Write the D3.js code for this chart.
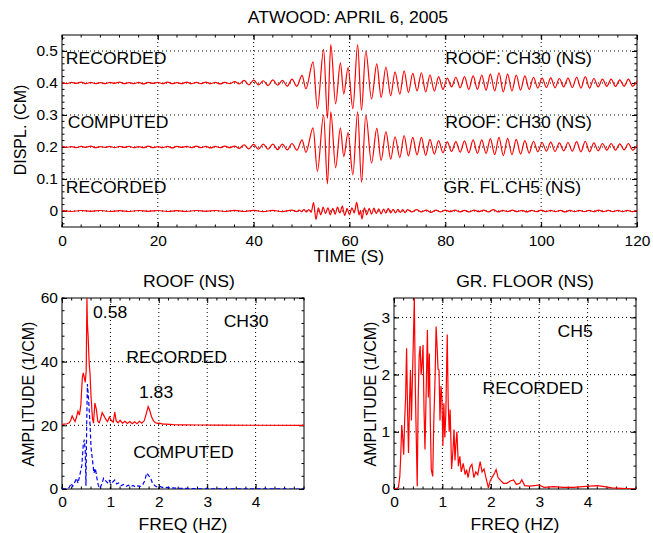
<!DOCTYPE html>
<html lang="en">
<head>
<meta charset="UTF-8">
<title>Atwood: April 6, 2005</title>
<script src="https://d3js.org/d3.v7.min.js"></script>
<style>
  body { margin: 0; background: #fff; }
  svg { display: block; background: #fff; }
  text { font-family: "Liberation Sans", Arial, Helvetica, sans-serif; fill: #000; }
  .grid line { stroke: #000; stroke-width: 1; stroke-dasharray: 1,3; }
  .frame { fill: none; stroke: #000; stroke-width: 1; }
  .tick line, .minor { stroke: #000; stroke-width: 1; }
</style>
</head>
<body>
<svg width="653" height="533"></svg>
<script>
// ---- tick labels ----
const timeTicks = [0, 20, 40, 60, 80, 100, 120];
const displTicks = [0, 0.1, 0.2, 0.3, 0.4, 0.5];
const freqTicks = [0, 1, 2, 3, 4];
const roofAmpTicks = [0, 20, 40, 60];
const floorAmpTicks = [0, 1, 2, 3];

// vertical offsets used to stack the traces
const offsets = { roofRec: 0.4, roofComp: 0.2, floor: 0, roofSpec: 20 };

// ---- displacement time histories (cm), read at the wave peaks/troughs ----
const roofT = [
  0, 1, 2, 3, 4, 5, 6, 7, 8, 9, 10, 11, 12, 13, 14, 15, 16, 17, 18, 19,
  20, 21, 22, 23, 24, 25, 26, 27, 28, 29, 30, 31, 32, 33, 34, 35, 36, 37, 38, 39,
  40, 41, 42, 43, 44, 45, 46, 47, 48, 49,
  50.1, 50.9, 52.4, 53.3, 54.6, 55.4, 56.1, 57.1, 58.1, 58.8, 59.7, 60.7, 61.7, 62.5, 63.4, 64.6,
  65.7, 66.6, 67.6, 68.6, 69.5, 70.5, 71.4, 72.3, 73.2, 74.1, 75.0, 75.9, 76.8, 77.7, 78.6, 79.5,
  80.4, 81.3, 82.2, 83.1, 84.0, 84.9, 85.8, 86.7, 87.6, 88.5, 89.4, 90.3, 91.2, 92.1, 93.0,
  93.9, 94.8, 95.7, 96.6, 97.5, 98.4, 99.3, 100.2, 101.1, 102.0, 102.9, 103.8, 104.7, 105.6, 106.5,
  107.4, 108.3, 109.2, 110.1, 111.0, 111.9, 112.8, 113.7, 114.6, 115.5, 116.4, 117.3, 118.2, 119.1, 120.0
];
const roofRec = [
  0.001, -0.002, 0.002, -0.001, 0.003, -0.002, 0.002, -0.002, 0.001, -0.002,
  0.002, -0.001, 0.003, -0.002, 0.001, -0.002, 0.002, -0.003, 0.002, -0.001,
  0.002, -0.002, 0.003, -0.002, 0.001, -0.002, 0.003, -0.002, 0.002, -0.002,
  0.003, -0.002, 0.002, -0.003, 0.002, -0.002, 0.004, -0.003, 0.008, -0.006,
  0.009, -0.006, 0.007, -0.008, 0.010, -0.007, 0.008, -0.010, 0.012, -0.010,
  0.024, -0.018, 0.066, -0.080, 0.105, -0.110, 0.120, -0.065, 0.063, -0.034, 0.048, -0.080, 0.120, -0.085, 0.100, -0.050,
  0.060, -0.045, 0.050, -0.040, 0.035, -0.035, 0.038, -0.030, 0.030, -0.025, 0.032, -0.028, 0.025, -0.025, 0.020, -0.020,
  0.015, -0.012, 0.018, -0.015, 0.020, -0.020, 0.022, -0.020, 0.025, -0.022, 0.028, -0.025, 0.032, -0.028, 0.028,
  -0.025, 0.025, -0.022, 0.022, -0.020, 0.018, -0.016, 0.015, -0.014, 0.016, -0.015, 0.014, -0.012, 0.015, -0.014,
  0.018, -0.016, 0.020, -0.016, 0.014, -0.012, 0.012, -0.010, 0.012, -0.011, 0.010, -0.010, 0.012, -0.010, 0.006
];
const roofComp = [
  0.002, -0.001, 0.001, -0.002, 0.002, -0.001, 0.003, -0.002, 0.001, -0.001,
  0.002, -0.002, 0.002, -0.001, 0.002, -0.002, 0.001, -0.002, 0.003, -0.002,
  0.001, -0.002, 0.002, -0.003, 0.002, -0.001, 0.002, -0.002, 0.003, -0.002,
  0.002, -0.003, 0.002, -0.002, 0.003, -0.002, 0.003, -0.004, 0.007, -0.006,
  0.008, -0.007, 0.009, -0.007, 0.009, -0.008, 0.009, -0.009, 0.011, -0.010,
  0.022, -0.017, 0.060, -0.076, 0.100, -0.115, 0.110, -0.065, 0.060, -0.030, 0.045, -0.087, 0.110, -0.110, 0.100, -0.050,
  0.058, -0.042, 0.048, -0.038, 0.032, -0.033, 0.036, -0.028, 0.030, -0.025, 0.030, -0.026, 0.024, -0.022, 0.020, -0.018,
  0.016, -0.014, 0.017, -0.016, 0.019, -0.018, 0.022, -0.020, 0.022, -0.020, 0.026, -0.024, 0.030, -0.027, 0.027,
  -0.024, 0.024, -0.022, 0.020, -0.019, 0.018, -0.015, 0.014, -0.013, 0.015, -0.014, 0.013, -0.012, 0.014, -0.013,
  0.017, -0.015, 0.018, -0.015, 0.013, -0.012, 0.011, -0.010, 0.011, -0.010, 0.010, -0.009, 0.011, -0.010, 0.005
];
// ground floor CH5: [time (s), displacement (cm)]
const floorRec = [
  [0, 0.001], [2, -0.0015], [4, 0.0015], [6, -0.001], [8, 0.0015], [10, -0.0015], [12, 0.001], [14, -0.0015],
  [16, 0.0015], [18, -0.001], [20, 0.0015], [22, -0.0015], [24, 0.001], [26, -0.0015], [28, 0.0015], [30, -0.001],
  [32, 0.0015], [34, -0.0015], [36, 0.002], [38, -0.0015], [40, 0.002], [42, -0.002], [44, 0.002], [46, -0.002],
  [48, 0.0025], [49, -0.002], [49.5, 0.003], [50, -0.002], [50.5, 0.004], [51, -0.003], [51.5, 0.004], [52, -0.004],
  [52.5, 0.026], [53, -0.026], [53.5, 0.010], [54, -0.012], [54.5, 0.012], [55, -0.008], [55.5, 0.010], [56, -0.012],
  [56.5, 0.008], [57, -0.010], [57.5, 0.012], [58, -0.006], [58.5, 0.015], [59, -0.014], [59.5, 0.008], [60, -0.012],
  [60.5, 0.010], [61, -0.006], [61.5, 0.027], [62, -0.012], [62.3, 0.002], [62.6, -0.025], [63.1, 0.010], [63.6, -0.012],
  [64.1, 0.008], [64.6, -0.010], [65.1, 0.009], [65.6, -0.008], [66.1, 0.007], [66.6, -0.009], [67.1, 0.006], [67.6, -0.007],
  [68.1, 0.008], [68.6, -0.006], [69.1, 0.005], [69.6, -0.006], [70.1, 0.005], [70.6, -0.004], [71.1, 0.004], [71.6, -0.005],
  [72.1, 0.004], [73, -0.003], [74, 0.004], [75, -0.003], [76, 0.003], [77, -0.004], [78, 0.003], [79, -0.003],
  [80, 0.003], [81, -0.002], [82, 0.003], [83, -0.003], [84, 0.002], [85, -0.003], [86, 0.003], [87, -0.002],
  [88, 0.003], [89, -0.003], [90, 0.004], [91, -0.003], [92, 0.002], [93, -0.002], [94, 0.003], [95, -0.002],
  [96, 0.002], [97, -0.003], [98, 0.002], [99, -0.002], [100, 0.003], [101, -0.002], [102, 0.002], [103, -0.002],
  [104, 0.002], [105, -0.003], [106, 0.002], [107, -0.002], [108, 0.002], [109, -0.002], [110, 0.002], [111, -0.002],
  [112, 0.003], [113, -0.002], [114, 0.002], [115, -0.002], [116, 0.002], [117, -0.002], [118, 0.002], [119, -0.002],
  [120, 0.001]
];

// ---- Fourier amplitude spectra: [freq (Hz), amplitude (1/cm)] ----
const roofSpecRec = [
  [0, 0.3], [0.05, 0.4], [0.1, 0.5], [0.15, 0.8], [0.18, 1.6], [0.21, 3.0], [0.24, 2.0], [0.27, 1.2],
  [0.3, 2.6], [0.33, 4.4], [0.36, 3.2], [0.39, 6.5], [0.42, 15], [0.44, 16.5], [0.46, 15], [0.48, 13.5],
  [0.5, 17], [0.515, 40], [0.525, 32], [0.54, 28], [0.56, 20], [0.58, 16], [0.6, 9], [0.63, 2],
  [0.65, 0.7], [0.68, 7], [0.71, 5], [0.74, 1.2], [0.77, 0.8], [0.8, 2.2], [0.83, 4], [0.86, 3.2],
  [0.9, 2.0], [0.94, 1.2], [0.98, 2.6], [1.02, 1.5], [1.06, 1.0], [1.09, 4.2], [1.12, 1.4], [1.16, 0.8],
  [1.2, 1.6], [1.25, 0.7], [1.3, 1.3], [1.35, 0.6], [1.4, 1.2], [1.45, 0.5], [1.5, 1.1], [1.55, 0.5],
  [1.6, 1.3], [1.65, 0.7], [1.7, 1.5], [1.74, 3.6], [1.78, 5.9], [1.81, 4.8], [1.85, 2.7], [1.89, 1.4],
  [1.93, 0.8], [1.97, 0.6], [2.02, 0.7], [2.08, 0.4], [2.15, 0.4], [2.3, 0.25], [2.5, 0.15], [2.8, 0.1],
  [3.2, 0.05], [5, 0]
];
const roofSpecComp = [
  [0, 0], [0.1, 0.1], [0.15, 0.5], [0.19, 1.8], [0.22, 0.8], [0.26, 2.0], [0.3, 3.4], [0.33, 1.8],
  [0.37, 4.5], [0.41, 7.5], [0.44, 14], [0.46, 15.5], [0.48, 12], [0.495, 1], [0.51, 20], [0.525, 33],
  [0.55, 28], [0.58, 20], [0.6, 13], [0.63, 9], [0.66, 5], [0.69, 6.5], [0.72, 3.5], [0.75, 1.2],
  [0.78, 0.2], [0.82, 1.5], [0.86, 3.4], [0.9, 2.6], [0.94, 2.0], [0.97, 2.9], [1.01, 1.6], [1.05, 2.2],
  [1.09, 2.8], [1.13, 1.6], [1.17, 1.9], [1.22, 1.0], [1.27, 1.4], [1.32, 0.8], [1.37, 1.2], [1.42, 0.7],
  [1.47, 1.1], [1.52, 0.6], [1.57, 1.0], [1.62, 0.8], [1.67, 1.4], [1.71, 2.6], [1.75, 5.0], [1.79, 4.2],
  [1.83, 3.5], [1.87, 1.8], [1.92, 1.0], [1.97, 0.6], [2.02, 0.8], [2.1, 0.4], [2.2, 0.5], [2.35, 0.25],
  [2.5, 0.2], [2.7, 0.1], [3, 0.05], [5, 0]
];
const floorSpec = [
  [0, 0], [0.05, 0.01], [0.09, 0.02], [0.12, 0.22], [0.14, 0.6], [0.16, 1.12], [0.18, 0.9], [0.2, 0.6],
  [0.22, 1.2], [0.24, 1.6], [0.26, 2.46], [0.28, 1.38], [0.3, 0.63], [0.32, 1.5], [0.34, 2.08], [0.36, 1.2],
  [0.38, 1.9], [0.4, 2.6], [0.42, 3.34], [0.44, 1.8], [0.46, 0.9], [0.48, 0.05], [0.5, 1.6], [0.52, 2.32],
  [0.54, 2.5], [0.56, 2.0], [0.58, 2.2], [0.6, 2.52], [0.62, 1.4], [0.64, 0.69], [0.66, 1.5], [0.69, 2.78],
  [0.71, 1.6], [0.73, 2.37], [0.75, 1.2], [0.77, 0.34], [0.8, 0.22], [0.82, 1.1], [0.85, 2.0], [0.87, 2.84],
  [0.89, 2.5], [0.91, 2.1], [0.93, 2.08], [0.95, 1.2], [0.97, 1.8], [0.99, 1.6], [1.01, 0.75], [1.03, 1.5],
  [1.05, 0.9], [1.07, 1.3], [1.1, 2.7], [1.12, 1.5], [1.14, 1.0], [1.16, 1.39], [1.19, 0.35], [1.22, 0.7],
  [1.24, 1.04], [1.26, 0.5], [1.28, 0.8], [1.3, 1.0], [1.33, 0.4], [1.36, 0.57], [1.39, 0.3], [1.43, 0.45],
  [1.47, 0.25], [1.5, 0.34], [1.53, 0.2], [1.57, 0.38], [1.61, 0.43], [1.65, 0.2], [1.69, 0.3], [1.73, 0.25],
  [1.78, 0.48], [1.82, 0.3], [1.86, 0.35], [1.9, 0.2], [1.95, 0.02], [1.99, 0.15], [2.04, 0.22], [2.08, 0.28],
  [2.11, 0.34], [2.15, 0.2], [2.2, 0.15], [2.26, 0.1], [2.33, 0.1], [2.4, 0.14], [2.47, 0.16], [2.53, 0.08],
  [2.6, 0.1], [2.64, 0.16], [2.7, 0.06], [2.8, 0.05], [2.9, 0.06], [3.0, 0.07], [3.1, 0.03], [3.3, 0.04],
  [3.5, 0.03], [3.7, 0.03], [3.9, 0.04], [4.05, 0.05], [4.2, 0.06], [4.35, 0.04], [4.5, 0.02], [4.7, 0.01],
  [5, 0]
];

const SX = 1.1;   // the picture's lettering is a little wider than the font
const svg = d3.select("svg");

const xT = d3.scaleLinear().domain([0, 120]).range([62, 637]);
const yT = d3.scaleLinear().domain([-0.05, 0.55]).range([227, 35]);
const xL = d3.scaleLinear().domain([0, 5]).range([62, 304]);
const yL = d3.scaleLinear().domain([0, 60]).range([489, 298]);
const xR = d3.scaleLinear().domain([0, 5]).range([394, 636]);
const yR = d3.scaleLinear().domain([0, 3.34]).range([489, 298]);

function say(g, x, y, s, size, anchor) {
  return g.append("text")
    .attr("transform", `translate(${x},${y}) scale(${SX},1)`)
    .attr("text-anchor", anchor || "start")
    .style("font-size", (size || 16) + "px")
    .text(s);
}

function panel(x, y, o) {
  const [l, r] = x.range(), [b, t] = y.range();
  const g = svg.append("g");
  const id = "clip" + Math.round(l) + "_" + Math.round(t);
  svg.append("clipPath").attr("id", id)
    .append("rect").attr("x", l).attr("y", t).attr("width", r - l).attr("height", b - t);

  // dotted grid
  const grid = g.append("g").attr("class", "grid");
  grid.selectAll(".gx").data(o.xTicks.filter(d => x(d) > l + 1 && x(d) < r - 1)).join("line")
    .attr("x1", d => x(d)).attr("x2", d => x(d)).attr("y1", b).attr("y2", t);
  grid.selectAll(".gy").data(o.yTicks.filter(d => y(d) < b - 1 && y(d) > t + 1)).join("line")
    .attr("x1", l).attr("x2", r).attr("y1", d => y(d)).attr("y2", d => y(d));

  // minor ticks on all four sides
  const mx = d3.range(x.domain()[0], x.domain()[1] + 1e-9, o.xMinor);
  const my = d3.range(o.yMinorStart, y.domain()[1] + 1e-9, o.yMinor);
  mx.forEach(v => {
    g.append("line").attr("class", "minor").attr("x1", x(v)).attr("x2", x(v)).attr("y1", b).attr("y2", b - 2.5);
    g.append("line").attr("class", "minor").attr("x1", x(v)).attr("x2", x(v)).attr("y1", t).attr("y2", t + 2.5);
  });
  my.forEach(v => {
    g.append("line").attr("class", "minor").attr("x1", l).attr("x2", l + 2.5).attr("y1", y(v)).attr("y2", y(v));
    g.append("line").attr("class", "minor").attr("x1", r).attr("x2", r - 2.5).attr("y1", y(v)).attr("y2", y(v));
  });

  // major ticks with labels (bottom, left) and bare ticks (top, right)
  const ax = g.append("g").attr("transform", `translate(0,${b})`)
    .call(d3.axisBottom(x).tickValues(o.xTicks).tickSize(-5).tickSizeOuter(0).tickPadding(o.xPad).tickFormat(d3.format("")));
  const ay = g.append("g").attr("transform", `translate(${l},0)`)
    .call(d3.axisLeft(y).tickValues(o.yTicks).tickSize(-5).tickSizeOuter(0).tickPadding(4).tickFormat(d3.format("")));
  g.append("g").attr("transform", `translate(0,${t})`)
    .call(d3.axisTop(x).tickValues(o.xTicks).tickSize(-5).tickSizeOuter(0).tickFormat(""));
  g.append("g").attr("transform", `translate(${r},0)`)
    .call(d3.axisRight(y).tickValues(o.yTicks).tickSize(-5).tickSizeOuter(0).tickFormat(""));
  g.selectAll(".domain").remove();
  [ax, ay].forEach(a => a.selectAll("text").attr("fill", "#000")
    .style("font-family", '"Liberation Sans", Arial, sans-serif').style("font-size", "15.5px"));

  g.append("rect").attr("class", "frame").attr("x", l).attr("y", t).attr("width", r - l).attr("height", b - t);
  return { g, clip: `url(#${id})` };
}

// ---------- top: displacement histories ----------
const topP = panel(xT, yT, { xTicks: timeTicks, yTicks: displTicks, xMinor: 4, yMinor: 0.02, yMinorStart: -0.04, xPad: 8 });
const lineT = d3.line().x(d => xT(d[0])).y(d => yT(d[1])).curve(d3.curveMonotoneX);
const traces = [
  roofT.map((t, i) => [t, roofRec[i] + offsets.roofRec]),
  roofT.map((t, i) => [t, roofComp[i] + offsets.roofComp]),
  floorRec.map(d => [d[0], d[1] + offsets.floor])
];
topP.g.append("g").attr("clip-path", topP.clip).selectAll("path").data(traces).join("path")
  .attr("d", lineT).attr("fill", "none").attr("stroke", "#f00").attr("stroke-width", 1.2);

say(topP.g, xT(0.8), yT(0.46), "RECORDED");
say(topP.g, xT(80), yT(0.46), "ROOF: CH30 (NS)");
say(topP.g, xT(1.2), yT(0.26), "COMPUTED");
say(topP.g, xT(80), yT(0.26), "ROOF: CH30 (NS)");
say(topP.g, xT(0.8), yT(0.057), "RECORDED");
say(topP.g, xT(79.6), yT(0.057), "GR. FL.CH5 (NS)");
say(svg, 348, 23, "ATWOOD: APRIL 6, 2005", 16, "middle");
say(svg, 349, 262, "TIME (S)", 16, "middle");
svg.append("text").attr("transform", "translate(26,130) rotate(-90)").attr("text-anchor", "middle")
  .style("font-size", "16px").text("DISPL. (CM)");

// ---------- bottom left: roof spectra ----------
const leftP = panel(xL, yL, { xTicks: freqTicks, yTicks: roofAmpTicks, xMinor: 0.2, yMinor: 4, yMinorStart: 0, xPad: 7 });
const lineL = d3.line().x(d => xL(d[0])).y(d => yL(d[1]));
const lp = leftP.g.append("g").attr("clip-path", leftP.clip);
lp.append("path").attr("d", lineL(roofSpecComp)).attr("fill", "none")
  .attr("stroke", "#00f").attr("stroke-width", 1.2).attr("stroke-dasharray", "4,2.5");
lp.append("path").attr("d", lineL(roofSpecRec.map(d => [d[0], d[1] + offsets.roofSpec]))).attr("fill", "none")
  .attr("stroke", "#f00").attr("stroke-width", 1.2);
say(leftP.g, xL(0.64), yL(53.8), "0.58");
say(leftP.g, xL(3.34), yL(51), "CH30");
say(leftP.g, xL(1.33), yL(39.6), "RECORDED");
say(leftP.g, xL(1.59), yL(28.6), "1.83");
say(leftP.g, xL(1.47), yL(9.7), "COMPUTED");
say(svg, 189, 287, "ROOF (NS)", 16, "middle");
say(svg, 183, 530, "FREQ (HZ)", 16, "middle");
svg.append("text").attr("transform", "translate(34,394) rotate(-90)").attr("text-anchor", "middle")
  .style("font-size", "16px").text("AMPLITUDE (1/CM)");

// ---------- bottom right: ground floor spectrum ----------
const rightP = panel(xR, yR, { xTicks: freqTicks, yTicks: floorAmpTicks, xMinor: 0.2, yMinor: 0.2, yMinorStart: 0, xPad: 7 });
const lineR = d3.line().x(d => xR(d[0])).y(d => yR(d[1]));
rightP.g.append("g").attr("clip-path", rightP.clip).append("path").attr("d", lineR(floorSpec))
  .attr("fill", "none").attr("stroke", "#f00").attr("stroke-width", 1.2);
say(rightP.g, xR(3.38), yR(2.66), "CH5");
say(rightP.g, xR(1.83), yR(1.67), "RECORDED");
say(svg, 525, 287, "GR. FLOOR (NS)", 16, "middle");
say(svg, 515, 530, "FREQ (HZ)", 16, "middle");
svg.append("text").attr("transform", "translate(376,394) rotate(-90)").attr("text-anchor", "middle")
  .style("font-size", "16px").text("AMPLITUDE (1/CM)");
</script>
</body>
</html>
